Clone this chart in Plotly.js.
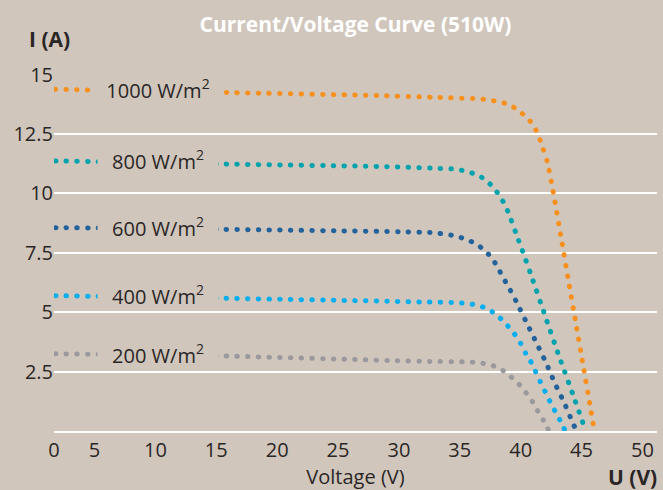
<!DOCTYPE html>
<html><head><meta charset="utf-8">
<script src="https://cdn.plot.ly/plotly-3.0.1.min.js"></script>
<style>
html,body{margin:0;padding:0;background:#D0C6BC;}
#chart{width:663px;height:490px;}
#chart path.js-line{stroke-linecap:round;}
</style></head><body><div id="chart"></div>
<script>
// Irradiance levels (series names)
const seriesNames = ['1000 W/m<sup>2</sup>', '800 W/m<sup>2</sup>', '600 W/m<sup>2</sup>', '400 W/m<sup>2</sup>', '200 W/m<sup>2</sup>'];
const seriesColors = ['#F7901E', '#00A3AD', '#23629A', '#05AEEF', '#9A9A9E'];

// Voltage (V) / current (A)
const v1000 = [0, 15.9, 28.4, 32.8, 36.4, 37.3, 38.1, 39.0, 39.7, 40.4, 41.0, 41.4, 41.7, 42.2, 42.7, 43.3, 43.9, 44.5, 45.1, 45.7, 46.06];
const i1000 = [14.4, 14.25, 14.12, 14.05, 13.99, 13.95, 13.87, 13.76, 13.54, 13.25, 12.91, 12.52, 12.1, 11.31, 9.99, 8.21, 6.41, 4.64, 2.85, 1.08, 0.0];

const v800 = [0, 15.3, 29.0, 32.6, 34.5, 35.4, 36.3, 37.05, 37.7, 38.25, 38.7, 39.05, 39.6, 40.2, 40.8, 41.95, 43.1, 44.3, 45.35];
const i800 = [11.39, 11.24, 11.13, 11.07, 11.03, 10.95, 10.81, 10.60, 10.29, 9.92, 9.53, 9.12, 8.35, 7.51, 6.65, 4.94, 3.23, 1.53, 0.0];

const v600 = [0, 15.4, 30.0, 32.8, 34.6, 35.45, 36.25, 37.0, 37.6, 38.1, 38.5, 38.96, 39.7, 40.5, 41.3, 42.1, 42.8, 43.6, 44.3, 44.6];
const i600 = [8.57, 8.49, 8.39, 8.35, 8.22, 8.08, 7.90, 7.63, 7.30, 6.91, 6.51, 6.11, 5.39, 4.55, 3.71, 2.86, 2.02, 1.17, 0.32, 0.0];

const v400 = [0, 15.15, 29.45, 32.1, 34.9, 35.8, 36.7, 37.5, 38.25, 38.9, 39.5, 40.0, 40.4, 40.8, 41.2, 41.6, 42.0, 42.4, 42.85, 43.3, 43.67];
const i400 = [5.71, 5.59, 5.46, 5.43, 5.40, 5.36, 5.26, 5.08, 4.79, 4.45, 4.08, 3.69, 3.28, 2.95, 2.53, 2.09, 1.67, 1.25, 0.81, 0.39, 0.0];

const v200 = [0, 15.3, 29.8, 32.55, 35.3, 36.3, 37.1, 37.95, 38.75, 39.4, 40.05, 40.6, 41.1, 41.5, 42.0, 42.33];
const i200 = [3.26, 3.16, 2.96, 2.93, 2.91, 2.89, 2.83, 2.71, 2.48, 2.19, 1.87, 1.50, 1.14, 0.75, 0.34, 0.0];

// Axis ticks
const xTickVals = [0, 5, 10, 15, 20, 25, 30, 35, 40, 45, 50];
const xTickText = ['0', '5', '10', '15', '20', '25', '30', '35', '40', '45', '50'];
const yTickVals = [2.5, 5, 7.5, 10, 12.5, 15];
const yTickText = ['2.5', '5', '7.5', '10', '12.5', '15'];

const BG = '#D0C6BC';
const TXT = '#2B2626';
const FONT = 'Open Sans, Noto Sans, sans-serif';
const xRange = [1.67, 51.2];
const yRange = [0, 15.03];

const Vs = [v1000, v800, v600, v400, v200];
const Is = [i1000, i800, i600, i400, i200];

const traces = Vs.map((v, k) => ({
  x: v, y: Is[k], type: 'scatter', mode: 'lines', name: seriesNames[k],
  line: {color: seriesColors[k], width: 5, dash: '0.5px,10.2px', shape: 'spline', smoothing: 0.5},
  hoverinfo: 'skip'
}));

const labelWidths = [128, 120, 120, 120, 120];
const annotations = seriesNames.map((n, k) => ({
  x: 10.2, y: Is[k][0], xref: 'x', yref: 'y', text: n, showarrow: false,
  xanchor: 'center', yanchor: 'middle', bgcolor: BG, width: labelWidths[k], height: 20, borderpad: 0,
  font: {family: FONT, size: 20, color: TXT}
}));
annotations.push(
  {xref: 'paper', yref: 'paper', x: -0.007, y: 1.098, xanchor: 'center', yanchor: 'middle', text: '<b>I (A)</b>', showarrow: false, font: {family: FONT, size: 21, color: TXT}},
  {xref: 'paper', yref: 'paper', x: 0.959, y: -0.13, xanchor: 'center', yanchor: 'middle', text: '<b>U (V)</b>', showarrow: false, font: {family: FONT, size: 21, color: TXT}}
);

const layout = {
  width: 663, height: 490,
  paper_bgcolor: BG, plot_bgcolor: BG,
  margin: {l: 54, r: 6, t: 74, b: 59},
  showlegend: false,
  title: {text: '<b>Current/Voltage Curve (510W)</b>', font: {family: FONT, size: 21, color: '#FFFFFF'},
          xref: 'paper', x: 0.5, xanchor: 'center', y: 0.95, yanchor: 'middle'},
  xaxis: {
    range: xRange, tickmode: 'array',
    tickvals: xTickVals.map(v => Math.max(v, xRange[0])), ticktext: xTickText,
    showgrid: false, zeroline: false, showline: true, linecolor: '#FFFFFF', linewidth: 2,
    ticks: '', tickfont: {family: FONT, size: 20, color: TXT},
    title: {text: 'Voltage (V)', font: {family: FONT, size: 20, color: TXT}, standoff: 10}
  },
  yaxis: {
    range: yRange, tickmode: 'array', tickvals: yTickVals, ticktext: yTickText,
    showgrid: true, gridcolor: '#FFFFFF', gridwidth: 2, zeroline: false, showline: false,
    ticks: '', tickfont: {family: FONT, size: 20, color: TXT}
  },
  annotations: annotations
};

Plotly.newPlot('chart', traces, layout, {displayModeBar: false, staticPlot: true});
</script>
</body></html>
